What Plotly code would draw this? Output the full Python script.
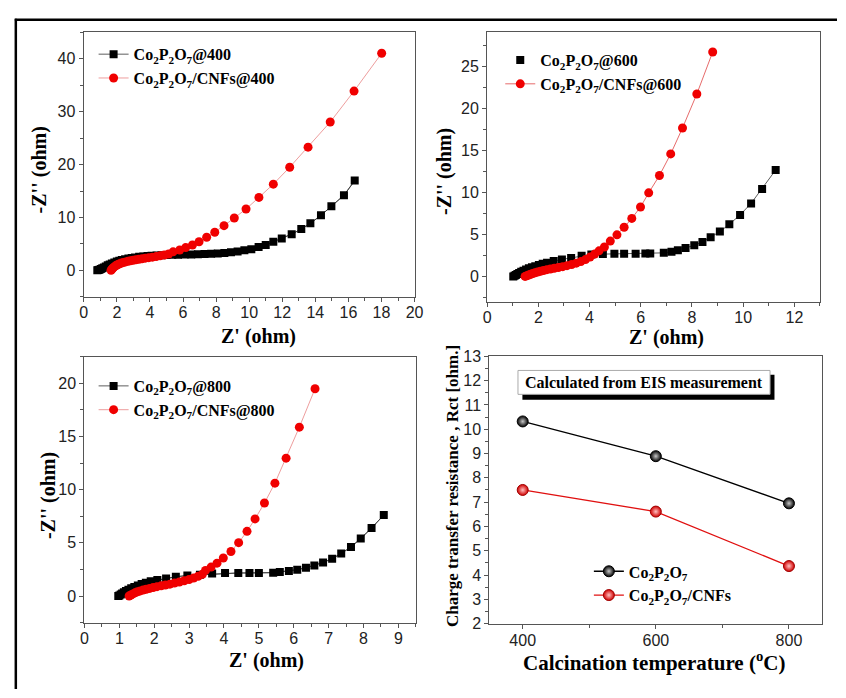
import plotly.graph_objects as go

W, H = 846, 698

# ---------------- data ----------------
# Panel 1 (calcined @400)
z1_co_x = [0.82,0.88,0.95,1.03,1.12,1.22,1.33,1.45,1.57,1.7,1.85,2.0,2.15,2.3,2.5,2.7,2.9,3.1,3.35,3.6,3.85,4.1,4.4,4.7,5.0,5.35,5.7,6.1,6.5,6.9,7.3,7.7,8.1,8.5,8.9,9.3,9.71,10.13,10.57,11.0,11.46,11.97,12.57,13.15,13.7,14.34,14.97,15.73,16.38]
z1_co_y = [0,0.05,0.12,0.25,0.4,0.55,0.75,0.95,1.1,1.3,1.5,1.65,1.8,1.95,2.1,2.25,2.35,2.45,2.55,2.6,2.7,2.75,2.8,2.85,2.9,2.95,2.95,3.0,3.0,3.05,3.1,3.15,3.2,3.3,3.4,3.55,3.8,4.0,4.4,4.8,5.4,6.0,6.85,7.8,8.9,10.4,12.1,14.2,16.97]
z1_cnf_x = [1.65,1.7,1.75,1.82,1.9,1.98,2.07,2.17,2.28,2.4,2.53,2.67,2.82,2.98,3.15,3.33,3.52,3.72,3.93,4.15,4.38,4.62,4.87,5.13,5.4,5.8,6.16,6.57,6.97,7.43,7.92,8.48,9.1,9.81,10.59,11.46,12.45,13.56,14.9,16.34,18.01]
z1_cnf_y = [0,0.2,0.4,0.6,0.8,0.95,1.1,1.25,1.4,1.5,1.6,1.7,1.8,1.9,2.0,2.1,2.2,2.3,2.4,2.5,2.6,2.75,2.9,3.1,3.5,3.85,4.3,4.8,5.4,6.25,7.2,8.45,9.9,11.6,13.8,16.3,19.5,23.3,28.05,33.9,41.05]

# Panel 2 (calcined @600)
z2_co_x = [1.02,1.07,1.12,1.18,1.25,1.33,1.42,1.52,1.63,1.75,1.88,2.02,2.17,2.34,2.6,2.92,3.28,3.69,4.07,4.52,4.97,5.35,5.8,6.18,6.37,6.9,7.2,7.45,7.75,8.09,8.41,8.73,9.09,9.46,9.88,10.31,10.74,11.27]
z2_co_y = [0,0.08,0.18,0.3,0.42,0.55,0.68,0.82,0.96,1.1,1.22,1.35,1.5,1.63,1.82,2.02,2.2,2.45,2.6,2.65,2.68,2.7,2.7,2.72,2.72,2.8,2.92,3.11,3.39,3.69,4.09,4.67,5.33,6.19,7.31,8.68,10.4,12.65]
z2_cnf_x = [1.48,1.55,1.62,1.7,1.78,1.87,1.97,2.08,2.2,2.33,2.47,2.62,2.78,2.95,3.12,3.3,3.48,3.66,3.84,4.02,4.2,4.37,4.58,4.81,5.07,5.35,5.65,5.99,6.31,6.73,7.17,7.63,8.19,8.81]
z2_cnf_y = [0,0.08,0.17,0.26,0.35,0.44,0.53,0.62,0.71,0.8,0.88,0.97,1.06,1.16,1.28,1.42,1.58,1.76,2.0,2.3,2.65,3.04,3.5,4.2,4.94,5.84,6.89,8.25,9.93,11.99,14.56,17.64,21.68,26.67]

# Panel 3 (calcined @800)
z3_co_x = [0.97,1.0,1.04,1.08,1.13,1.19,1.26,1.34,1.43,1.53,1.64,1.76,1.9,2.09,2.34,2.62,2.95,3.31,3.66,4.03,4.41,4.73,5.0,5.41,5.6,5.86,6.1,6.35,6.59,6.84,7.1,7.36,7.64,7.92,8.23,8.58]
z3_co_y = [0,0.06,0.14,0.24,0.35,0.47,0.6,0.73,0.86,1.0,1.13,1.26,1.38,1.5,1.65,1.81,1.93,1.99,2.11,2.17,2.17,2.17,2.17,2.2,2.27,2.36,2.48,2.66,2.88,3.15,3.51,4.0,4.61,5.41,6.39,7.61]
z3_cnf_x = [1.28,1.33,1.39,1.45,1.52,1.6,1.68,1.77,1.87,1.97,2.08,2.2,2.32,2.45,2.58,2.72,2.86,3.0,3.13,3.26,3.38,3.47,3.63,3.8,3.98,4.2,4.42,4.66,4.89,5.16,5.46,5.78,6.16,6.61]
z3_cnf_y = [0,0.1,0.2,0.3,0.4,0.48,0.56,0.64,0.72,0.8,0.88,0.96,1.04,1.12,1.22,1.32,1.44,1.56,1.7,1.86,2.04,2.41,2.72,3.09,3.58,4.19,5.02,6.08,7.25,8.74,10.61,12.96,15.87,19.48]

# Panel 4 (Rct)
temps = [400, 600, 800]
rct_co = [10.32, 8.89, 6.95]
rct_cnf = [7.5, 6.61, 4.37]

CO = "Co<sub>2</sub>P<sub>2</sub>O<sub>7</sub>"
names1 = [CO + "@400", CO + "/CNFs@400"]
names2 = [CO + "@600", CO + "/CNFs@600"]
names3 = [CO + "@800", CO + "/CNFs@800"]
names4 = [CO, CO + "/CNFs"]

RED = "#f00000"
SERIF = "Liberation Serif, Times New Roman, serif"
SANS = "Liberation Sans, Arial, sans-serif"

def X(px):
    return px / W

def Y(py):
    return 1 - py / H

fig = go.Figure()

def add_eis(xa, ya, leg, names, cox, coy, cnx, cny, co_legend_line=True, red_line="rgba(225,90,90,0.75)"):
    fig.add_trace(go.Scatter(x=cox, y=coy, mode="lines", line=dict(color="#333", width=0.8),
                             xaxis=xa, yaxis=ya, showlegend=False, hoverinfo="skip"))
    fig.add_trace(go.Scatter(x=cox, y=coy, mode="lines+markers" if co_legend_line else "markers",
                             line=dict(color="#333", width=0.8),
                             marker=dict(symbol="square", size=8, color="black"),
                             name=names[0], xaxis=xa, yaxis=ya, legend=leg))
    fig.add_trace(go.Scatter(x=cnx, y=cny, mode="lines+markers",
                             line=dict(color=red_line, width=0.8),
                             marker=dict(symbol="circle", size=9, color=RED),
                             name=names[1], xaxis=xa, yaxis=ya, legend=leg))

add_eis("x", "y", "legend", names1, z1_co_x, z1_co_y, z1_cnf_x, z1_cnf_y)
add_eis("x2", "y2", "legend2", names2, z2_co_x, z2_co_y, z2_cnf_x, z2_cnf_y,
        co_legend_line=False, red_line="#e04545")
add_eis("x3", "y3", "legend3", names3, z3_co_x, z3_co_y, z3_cnf_x, z3_cnf_y)

fig.add_trace(go.Scatter(x=temps, y=rct_co, mode="lines+markers", name=names4[0],
                         line=dict(color="black", width=1.3),
                         marker=dict(symbol="circle", size=11, color="#000",
                                     gradient=dict(type="radial", color="#c8c8c8"),
                                     line=dict(color="#000", width=1)),
                         xaxis="x4", yaxis="y4", legend="legend4"))
fig.add_trace(go.Scatter(x=temps, y=rct_cnf, mode="lines+markers", name=names4[1],
                         line=dict(color="#e01010", width=1.3),
                         marker=dict(symbol="circle", size=11, color="#d00000",
                                     gradient=dict(type="radial", color="#ffc0c0"),
                                     line=dict(color="#a00000", width=1)),
                         xaxis="x4", yaxis="y4", legend="legend4"))

AX = "#555"
def axis(domain, rng, dtick, minor_dtick, anchor, tickvals=None, standoff=0):
    d = dict(domain=domain, range=rng, anchor=anchor, showline=True, mirror=True,
             linecolor=AX, linewidth=1.3, ticks="outside", ticklen=4, tickwidth=1.1,
             tickcolor=AX, showgrid=False, zeroline=False, ticklabelstandoff=standoff,
             tickfont=dict(family=SANS, size=16, color="#222"),
             minor=dict(ticks="outside", ticklen=3, tickwidth=1, tickcolor=AX, dtick=minor_dtick, showgrid=False))
    if tickvals is not None:
        d["tickmode"] = "array"
        d["tickvals"] = tickvals
    else:
        d["dtick"] = dtick
        d["tick0"] = 0
    return d

p1 = (81, 417, 25, 296)
p2 = (490.7, 828.7, 25, 301)
p3 = (81.7, 418.3, 357.3, 630)
p4 = (493, 831, 357, 631)

def dom(p):
    return [X(p[0]), X(p[1])], [Y(p[3]), Y(p[2])]

d1x, d1y = dom(p1)
d2x, d2y = dom(p2)
d3x, d3y = dom(p3)
d4x, d4y = dom(p4)

fig.update_layout(
    xaxis=axis(d1x, [0, 20], 2, 1, "y", standoff=-3),
    yaxis=axis(d1y, [-5, 45], 10, 5, "x"),
    xaxis2=axis(d2x, [0, 13], 2, 1, "y2", standoff=-3),
    yaxis2=axis(d2y, [-3, 29], 5, 2.5, "x2"),
    xaxis3=axis(d3x, [0, 9.5], 1, 0.5, "y3", standoff=-3),
    yaxis3=axis(d3y, [-2.5, 22.5], 5, 2.5, "x3"),
    xaxis4=axis(d4x, [350, 850], 200, 100, "y4", tickvals=temps, standoff=-2),
    yaxis4=axis(d4y, [2, 13], 1, 0.5, "x4"),
)

legfont = dict(family=SERIF, size=16, color="black", weight="bold")
def leg(px, py):
    return dict(x=X(px), y=Y(py), xanchor="left", yanchor="top", bgcolor="rgba(0,0,0,0)",
                font=legfont, tracegroupgap=0, itemsizing="trace")

fig.update_layout(
    legend=leg(91, 30),
    legend2=leg(504, 36),
    legend3=leg(91, 370),
    legend4=leg(594, 560),
)

annots = []
def title(text, px, py, size=20, angle=0):
    annots.append(dict(text=text, x=X(px), y=Y(py), xref="paper", yref="paper", showarrow=False,
                       xanchor="center", yanchor="middle", textangle=angle,
                       font=dict(family=SERIF, size=size, color="black", weight="bold")))

title("-Z'' (ohm)", 37, 166, angle=-90)
title("Z' (ohm)", 258, 337)
title("-Z'' (ohm)", 448, 168, angle=-90)
title("Z' (ohm)", 673, 338)
title("-Z'' (ohm)", 46, 500, angle=-90)
title("Z' (ohm)", 267, 669)
title("Charge transfer resistance , Rct [ohm.]", 455, 490, size=17, angle=-90)
title("Calcination temperature (<sup>o</sup>C)", 660, 670, size=21)

annots.append(dict(text="Calculated from EIS measurement", x=X(650), y=Y(383.7), xref="paper", yref="paper",
                   showarrow=False, xanchor="center", yanchor="middle",
                   font=dict(family=SERIF, size=16, color="black", weight="bold")))

shapes = [
    dict(type="rect", xref="paper", yref="paper", x0=X(526.5), x1=X(782.5), y0=Y(401.5), y1=Y(376),
         fillcolor="black", line=dict(width=0), layer="below"),
    dict(type="rect", xref="paper", yref="paper", x0=X(522), x1=X(778), y0=Y(396), y1=Y(371.5),
         fillcolor="white", line=dict(color="#aaa", width=1), layer="below"),
    dict(type="line", xref="paper", yref="paper", x0=X(12), x1=X(12), y0=Y(11), y1=0,
         line=dict(color="black", width=2.5)),
    dict(type="line", xref="paper", yref="paper", x0=X(11), x1=1, y0=Y(12), y1=Y(12),
         line=dict(color="black", width=2.5)),
]

fig.update_layout(width=W, height=H, margin=dict(l=0, r=0, t=0, b=0),
                  paper_bgcolor="white", plot_bgcolor="rgba(0,0,0,0)",
                  annotations=annots, shapes=shapes)

fig.write_html("out.html")
